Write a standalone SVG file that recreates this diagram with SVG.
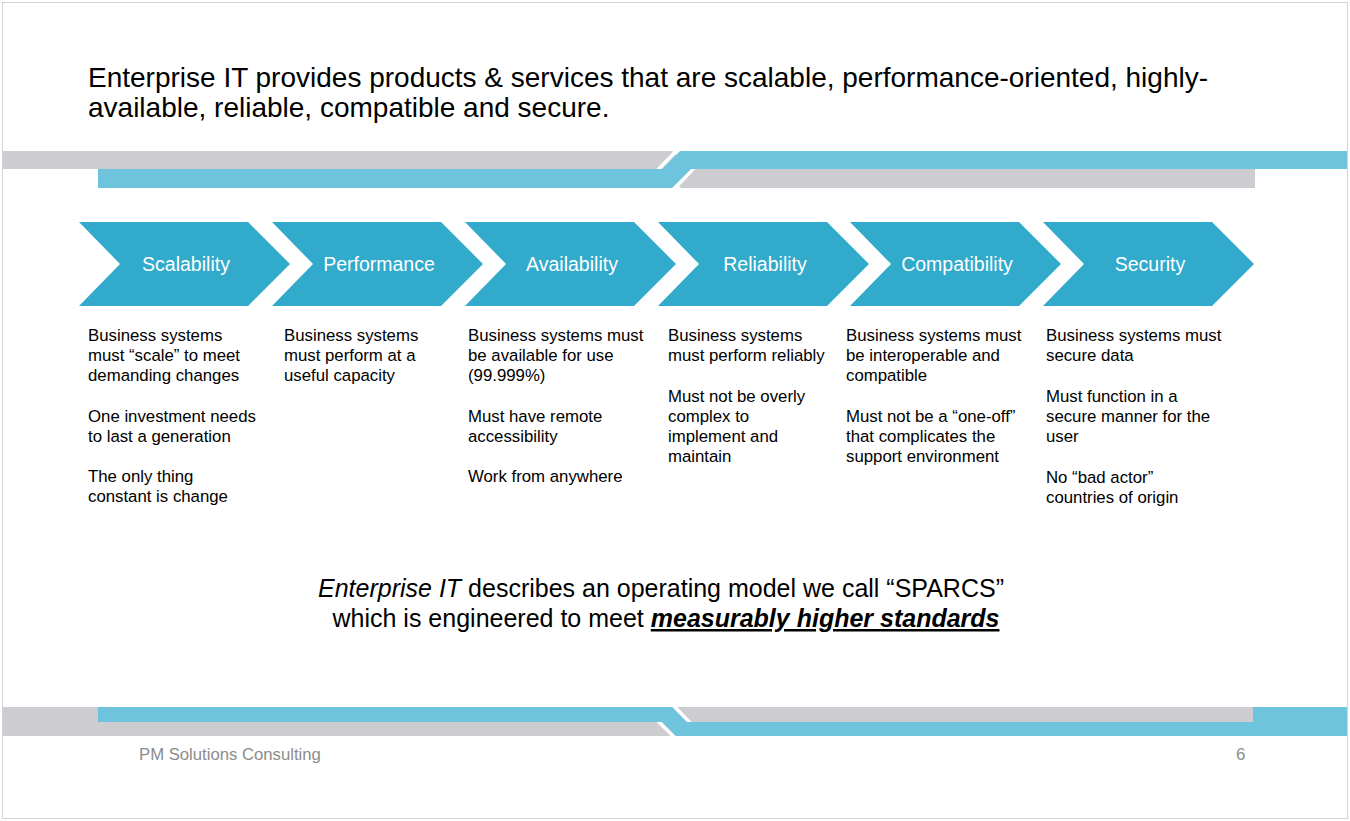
<svg xmlns="http://www.w3.org/2000/svg" width="1350" height="821" viewBox="0 0 1350 821">
<style>
.gray{fill:#cdcdd1}
.cyan{fill:#6ec4dc}
.gap{stroke:#ffffff;stroke-width:3.5;fill:none}
.chev{fill:#31aacb}
.lbl{font-family:"Liberation Sans",Arial,sans-serif;font-size:19.5px;fill:#ffffff;text-anchor:middle}
.body{font-family:"Liberation Sans",Arial,sans-serif;font-size:16.8px;fill:#000000}
.title{font-family:"Liberation Sans",Arial,sans-serif;font-size:28px;fill:#000000}
.stmt{font-family:"Liberation Sans",Arial,sans-serif;font-size:25px;fill:#000000;text-anchor:middle}
.foot{font-family:"Liberation Sans",Arial,sans-serif;font-size:16.7px;fill:#8c8c8c}
</style>
<rect x="0" y="0" width="1350" height="821" fill="#ffffff"/>
<rect x="2.5" y="2.5" width="1345" height="816" fill="none" stroke="#d4d4d4" stroke-width="1"/>

<g id="title">
<text class="title" x="88" y="87">Enterprise IT provides products &amp; services that are scalable, performance-oriented, highly-</text>
<text class="title" x="88" y="117">available, reliable, compatible and secure.</text>
</g>

<g id="top-bands">
<polygon class="gray" points="3,151 672,151 691,169 1255,169 1255,188 681,188 662,169 3,169"/>
<line class="gap" x1="656" y1="172" x2="679" y2="148"/>
<line class="gap" x1="672" y1="191" x2="695" y2="167"/>
<polygon class="cyan" points="98,169 662,169 680,151 1347,151 1347,169 691,169 672,188 98,188"/>
</g>

<g id="bottom-bands">
<rect class="gray" x="3" y="707" width="1250" height="29"/>
<line class="gap" x1="672" y1="704" x2="692" y2="725"/>
<line class="gap" x1="656" y1="719" x2="676" y2="739"/>
<polygon class="cyan" points="98,707 672,707 687,722 1253,722 1253,707 1347,707 1347,736 676,736 662,722 98,722"/>
</g>

<g id="node-scalability">
<polygon class="chev" points="79,222 248,222 290,264 248,306 79,306 120,264"/>
<text class="lbl" x="186" y="271">Scalability</text>
<text class="body" x="88" y="341">Business systems</text>
<text class="body" x="88" y="361">must “scale” to meet</text>
<text class="body" x="88" y="381">demanding changes</text>
<text class="body" x="88" y="422">One investment needs</text>
<text class="body" x="88" y="442">to last a generation</text>
<text class="body" x="88" y="482">The only thing</text>
<text class="body" x="88" y="502">constant is change</text>
</g>

<g id="node-performance">
<polygon class="chev" points="272,222 441,222 483,264 441,306 272,306 313,264"/>
<text class="lbl" x="379" y="271">Performance</text>
<text class="body" x="284" y="341">Business systems</text>
<text class="body" x="284" y="361">must perform at a</text>
<text class="body" x="284" y="381">useful capacity</text>
</g>

<g id="node-availability">
<polygon class="chev" points="465,222 634,222 676,264 634,306 465,306 506,264"/>
<text class="lbl" x="572" y="271">Availability</text>
<text class="body" x="468" y="341">Business systems must</text>
<text class="body" x="468" y="361">be available for use</text>
<text class="body" x="468" y="381">(99.999%)</text>
<text class="body" x="468" y="422">Must have remote</text>
<text class="body" x="468" y="442">accessibility</text>
<text class="body" x="468" y="482">Work from anywhere</text>
</g>

<g id="node-reliability">
<polygon class="chev" points="658,222 827,222 869,264 827,306 658,306 699,264"/>
<text class="lbl" x="765" y="271">Reliability</text>
<text class="body" x="668" y="341">Business systems</text>
<text class="body" x="668" y="361">must perform reliably</text>
<text class="body" x="668" y="402">Must not be overly</text>
<text class="body" x="668" y="422">complex to</text>
<text class="body" x="668" y="442">implement and</text>
<text class="body" x="668" y="462">maintain</text>
</g>

<g id="node-compatibility">
<polygon class="chev" points="850,222 1019,222 1061,264 1019,306 850,306 891,264"/>
<text class="lbl" x="957" y="271">Compatibility</text>
<text class="body" x="846" y="341">Business systems must</text>
<text class="body" x="846" y="361">be interoperable and</text>
<text class="body" x="846" y="381">compatible</text>
<text class="body" x="846" y="422">Must not be a “one-off”</text>
<text class="body" x="846" y="442">that complicates the</text>
<text class="body" x="846" y="462">support environment</text>
</g>

<g id="node-security">
<polygon class="chev" points="1043,222 1212,222 1254,264 1212,306 1043,306 1084,264"/>
<text class="lbl" x="1150" y="271">Security</text>
<text class="body" x="1046" y="341">Business systems must</text>
<text class="body" x="1046" y="361">secure data</text>
<text class="body" x="1046" y="402">Must function in a</text>
<text class="body" x="1046" y="422">secure manner for the</text>
<text class="body" x="1046" y="442">user</text>
<text class="body" x="1046" y="483">No “bad actor”</text>
<text class="body" x="1046" y="503">countries of origin</text>
</g>

<g id="connectors"></g>

<g id="statement">
<text class="stmt" x="661" y="597"><tspan font-style="italic">Enterprise IT</tspan> describes an operating model we call “SPARCS”</text>
<text class="stmt" x="666" y="627">which is engineered to meet <tspan font-style="italic" font-weight="bold" text-decoration="underline">measurably higher standards</tspan></text>
</g>

<g id="footer">
<text class="foot" x="139" y="760">PM Solutions Consulting</text>
<text class="foot" x="1236" y="760">6</text>
</g>
</svg>
